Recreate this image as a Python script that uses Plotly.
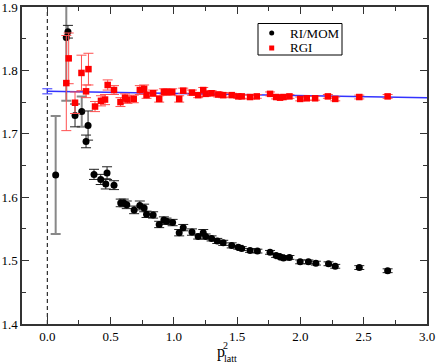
import plotly.graph_objects as go

# RI/MOM (black circles)
rimom_x = [0.219, 0.306, 0.322, 0.163, 0.369, 0.422, 0.462, 0.472, 0.527, 0.580, 0.604, 0.628,
           0.686, 0.731, 0.765, 0.784, 0.836, 0.884, 0.921, 0.942, 0.990, 1.042, 1.074, 1.143,
           1.192, 1.232, 1.251, 1.298, 1.343, 1.390, 1.457, 1.509, 1.536, 1.602, 1.660, 1.760,
           1.808, 1.839, 1.866, 1.913, 1.998, 2.063, 2.122, 2.222, 2.275, 2.465, 2.689]
rimom_y = [1.729, 1.688, 1.713, 1.861, 1.636, 1.628, 1.621, 1.638, 1.619, 1.591, 1.591, 1.588,
           1.580, 1.587, 1.583, 1.573, 1.572, 1.557, 1.564, 1.562, 1.560, 1.544, 1.552, 1.545,
           1.538, 1.544, 1.538, 1.535, 1.531, 1.528, 1.524, 1.521, 1.519, 1.516, 1.515, 1.513,
           1.508, 1.506, 1.504, 1.505, 1.498, 1.498, 1.496, 1.495, 1.491, 1.489, 1.484]
rimom_err = [0.018, 0.010, 0.023, 0.010, 0.008, 0.008, 0.008, 0.010, 0.007, 0.006, 0.006, 0.006,
             0.006, 0.007, 0.006, 0.005, 0.005, 0.005, 0.005, 0.005, 0.005, 0.005, 0.005, 0.005,
             0.004, 0.005, 0.004, 0.004, 0.004, 0.004, 0.004, 0.003, 0.003, 0.003, 0.003, 0.003,
             0.003, 0.003, 0.003, 0.003, 0.003, 0.003, 0.003, 0.003, 0.003, 0.003, 0.003]

# RI/MOM points with large (grey) error bars
rimom_big_x = [0.066, 0.150, 0.272]
rimom_big_y = [1.635, 1.852, 1.735]
rimom_big_err = [0.093, 0.100, 0.024]

# RGI (red squares)
rgi_x = [0.150, 0.169, 0.219, 0.270, 0.306, 0.325, 0.377, 0.424, 0.456, 0.477, 0.527, 0.578,
         0.614, 0.633, 0.683, 0.731, 0.765, 0.784, 0.836, 0.884, 0.921, 0.942, 0.987, 1.042,
         1.074, 1.143, 1.192, 1.232, 1.251, 1.298, 1.351, 1.390, 1.457, 1.509, 1.536, 1.602,
         1.655, 1.760, 1.808, 1.839, 1.866, 1.913, 1.998, 2.050, 2.116, 2.217, 2.275, 2.465, 2.689]
rgi_y = [1.780, 1.819, 1.749, 1.796, 1.767, 1.802, 1.743, 1.752, 1.754, 1.777, 1.769, 1.750,
         1.757, 1.754, 1.755, 1.769, 1.771, 1.761, 1.764, 1.755, 1.766, 1.766, 1.766, 1.755,
         1.768, 1.765, 1.761, 1.769, 1.763, 1.764, 1.762, 1.761, 1.761, 1.759, 1.759, 1.758,
         1.759, 1.763, 1.758, 1.757, 1.758, 1.759, 1.755, 1.756, 1.756, 1.759, 1.755, 1.758, 1.759]
rgi_err = [0.075, 0.040, 0.017, 0.028, 0.010, 0.025, 0.008, 0.008, 0.008, 0.008, 0.007, 0.007,
           0.006, 0.006, 0.006, 0.007, 0.006, 0.005, 0.005, 0.005, 0.005, 0.005, 0.005, 0.005,
           0.004, 0.004, 0.004, 0.004, 0.004, 0.004, 0.004, 0.004, 0.003, 0.003, 0.003, 0.003,
           0.003, 0.003, 0.003, 0.003, 0.003, 0.003, 0.003, 0.003, 0.003, 0.003, 0.003, 0.003, 0.003]

# Linear fit (blue) and its extrapolated value at p^2 = 0
fit_x = [0.0, 3.0]
fit_y = [1.767, 1.757]
fit0_err = [0.004]

legend_labels = ["RI/MOM", "RGI"]

font = "Liberation Serif, Times New Roman, serif"

# plot area in pixels: left 22, right 427, top 7, bottom 324
W, H = 436, 364
L, R, T, B = 22, 9, 7, 40
PW, PH = W - L - R, H - T - B


def px(x):
    return (x - L) / PW


def py(y):
    return 1 - (y - T) / PH


fig = go.Figure()

# vertical dashed line at x=0
fig.add_trace(go.Scatter(x=[0, 0], y=[1.4, 1.9], mode="lines",
                         line=dict(color="black", width=1, dash="4px,3px"),
                         showlegend=False, hoverinfo="skip"))

fig.add_trace(go.Scatter(x=rimom_big_x, y=rimom_big_y, mode="markers",
                         marker=dict(symbol="circle", size=7, color="black"),
                         error_y=dict(type="data", array=rimom_big_err, color="#888888",
                                      thickness=2, width=5),
                         showlegend=False))

fig.add_trace(go.Scatter(x=rimom_x, y=rimom_y, mode="markers", name=legend_labels[0],
                         marker=dict(symbol="circle", size=7, color="black"),
                         error_y=dict(type="data", array=rimom_err, color="#222222",
                                      thickness=1, width=5)))

fig.add_trace(go.Scatter(x=fit_x, y=fit_y, mode="lines",
                         line=dict(color="#3333ff", width=1.5),
                         showlegend=False))

fig.add_trace(go.Scatter(x=fit_x[:1], y=fit_y[:1], mode="markers",
                         marker=dict(size=1, color="rgba(0,0,255,0)"),
                         error_y=dict(type="data", array=fit0_err, color="#3333ff",
                                      thickness=1, width=5),
                         showlegend=False))

fig.add_trace(go.Scatter(x=rgi_x, y=rgi_y, mode="markers", name=legend_labels[1],
                         marker=dict(symbol="square", size=6.5, color="red"),
                         error_y=dict(type="data", array=rgi_err, color="#ff5050",
                                      thickness=1, width=5)))

axis_common = dict(showline=True, linecolor="#333333", linewidth=1.5, mirror="ticks",
                   ticks="inside", ticklen=7, tickwidth=1, tickcolor="#333333",
                   showgrid=False, zeroline=False, ticklabeloverflow="allow",
                   automargin=False,
                   tickfont=dict(family=font, size=13, color="black"))

# legend box drawn by hand (box, symbols, labels)
shapes = [
    dict(type="rect", xref="paper", yref="paper", x0=px(258), x1=px(342), y0=py(55), y1=py(23.5),
         line=dict(color="black", width=1), fillcolor="white", layer="above"),
    dict(type="circle", xref="paper", yref="paper", x0=px(269.2), x1=px(274.2), y0=py(35.5), y1=py(30.5),
         line=dict(color="black", width=0), fillcolor="black", layer="above"),
    dict(type="rect", xref="paper", yref="paper", x0=px(269.2), x1=px(274.2), y0=py(50.5), y1=py(45.5),
         line=dict(color="red", width=0), fillcolor="red", layer="above"),
]
annotations = [
    dict(text=legend_labels[0], xref="paper", yref="paper", x=px(288), y=py(33), xanchor="left",
         yanchor="middle", showarrow=False, font=dict(family=font, size=13, color="black")),
    dict(text=legend_labels[1], xref="paper", yref="paper", x=px(288), y=py(48), xanchor="left",
         yanchor="middle", showarrow=False, font=dict(family=font, size=13, color="black")),
    # axis title p_latt^2
    dict(text="p", xref="paper", yref="paper", x=px(214.5), y=py(352), xanchor="left",
         yanchor="middle", showarrow=False, font=dict(family=font, size=16, color="black")),
    dict(text="latt", xref="paper", yref="paper", x=px(222), y=py(358.5), xanchor="left",
         yanchor="middle", showarrow=False, font=dict(family=font, size=10, color="black")),
    dict(text="2", xref="paper", yref="paper", x=px(226), y=py(345), xanchor="center",
         yanchor="middle", showarrow=False, font=dict(family=font, size=10, color="black")),
]

fig.update_layout(
    width=W, height=H,
    margin=dict(l=L, r=R, t=T, b=B, autoexpand=False),
    paper_bgcolor="white", plot_bgcolor="white",
    xaxis=dict(range=[-0.2, 3.0], tick0=0, dtick=0.5, tickformat=".1f",
               minor=dict(dtick=0.25, tick0=0, ticks="inside", ticklen=4, tickcolor="#333333"),
               **axis_common),
    yaxis=dict(range=[1.4, 1.9], tick0=1.4, dtick=0.1, tickformat=".1f",
               minor=dict(dtick=0.05, tick0=1.4, ticks="inside", ticklen=4, tickcolor="#333333"),
               **axis_common),
    shapes=shapes,
    annotations=annotations,
    showlegend=False,
)

fig.write_html("out.html",
               config={"displayModeBar": False},
               post_script="document.body.style.margin='0';"
                           "document.documentElement.style.overflow='hidden';"
                           "document.body.style.overflow='hidden';")
